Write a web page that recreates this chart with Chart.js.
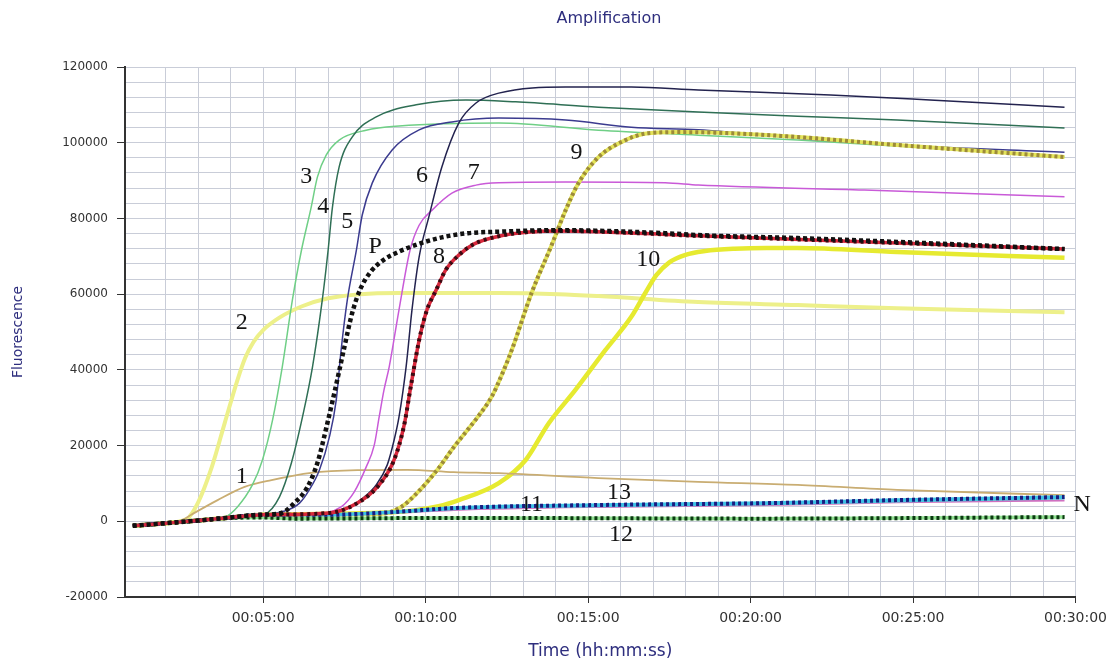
<!DOCTYPE html>
<html>
<head>
<meta charset="utf-8">
<script src="https://cdn.jsdelivr.net/npm/chart.js@4/dist/chart.umd.min.js"></script>
<style>
  html, body { margin: 0; padding: 0; background: #fff; }
  #chart { display: block; }
</style>
</head>
<body>
<canvas id="chart" width="1114" height="664"></canvas>
<script>
// time in minutes, fluorescence values
const curve1 = [[0.99, -1200], [2, -500], [2.5, 300], [2.8, 1800], [3.6, 5600], [4.43, 9100], [5.26, 10900], [6.48, 12800], [7.9, 13500], [9.43, 13600], [10.87, 13000], [12.25, 12700], [15.32, 11400], [18.39, 10400], [21.45, 9600], [24.51, 8300], [29.66, 6900]];
const curve2 = [[0.99, -1200], [2, -500], [2.65, 600], [2.99, 4800], [3.42, 14300], [3.82, 26000], [4.21, 37300], [4.45, 43200], [4.7, 47300], [5.0, 50500], [5.5, 53800], [6.2, 56800], [7.0, 58900], [8.0, 60000], [9.18, 60300], [12.25, 60300], [14.09, 60000], [15.32, 59500], [18.39, 57900], [21.45, 57100], [24.51, 56300], [29.66, 55200]];
const curve3 = [[0.99, -1200], [2, -500], [3, 200], [3.82, 1100], [4.21, 3800], [4.67, 9600], [4.98, 16200], [5.29, 26700], [5.59, 40800], [5.9, 58400], [6.18, 71600], [6.48, 83000], [6.67, 90900], [6.94, 96700], [7.34, 100700], [8.17, 103300], [9.18, 104400], [12.25, 105200], [15.32, 103300], [18.39, 102000], [21.45, 100700], [24.51, 99100], [29.66, 96200]];
const curve4 = [[0.99, -1200], [2, -500], [3, 200], [4, 1000], [5.04, 1900], [5.5, 6400], [5.87, 15400], [6.21, 27500], [6.52, 40800], [6.82, 58400], [7.0, 71600], [7.13, 82700], [7.34, 93600], [7.74, 101500], [8.48, 106800], [9.71, 110000], [11.24, 111300], [12.77, 110800], [15.32, 109400], [18.39, 108100], [21.45, 107000], [24.51, 106000], [29.66, 103900]];
const curve5 = [[0.99, -1200], [2, -500], [3, 200], [4, 1000], [5, 1700], [5.66, 2700], [6.12, 4800], [6.42, 8300], [6.73, 13500], [7.04, 22300], [7.25, 32000], [7.4, 45200], [7.59, 58400], [7.87, 71600], [8.05, 80900], [8.36, 89400], [8.97, 98100], [9.8, 103400], [10.81, 105500], [12.25, 106500], [14.31, 106000], [16.33, 104100], [18.39, 103400], [21.45, 101200], [24.51, 99400], [29.66, 97500]];
const curve6 = [[0.99, -1200], [2, -500], [3, 200], [4, 1000], [5, 1700], [6.73, 2000], [7.5, 3000], [8.11, 6400], [8.48, 9600], [8.82, 14900], [9.03, 21400], [9.18, 27500], [9.4, 40800], [9.58, 55800], [9.8, 69800], [10.1, 80400], [10.5, 93600], [11.02, 105200], [11.55, 110500], [12.25, 113100], [14.31, 114700], [16.33, 114700], [18.39, 113900], [22.46, 112600], [25.52, 111300], [29.66, 109400]];
const curve7 = [[0.99, -1200], [2, -500], [3, 200], [4, 1000], [5, 1700], [6.42, 1900], [7.4, 3800], [7.8, 7700], [8.17, 14300], [8.42, 20100], [8.57, 27500], [8.72, 34700], [8.88, 40800], [9.18, 55800], [9.52, 71600], [9.8, 78200], [10.2, 82200], [10.81, 86700], [11.55, 88800], [12.25, 89400], [14.31, 89600], [17.37, 89400], [18.39, 88800], [23.5, 87500], [29.66, 85700]];
const curveP = [[0.99, -1200], [2, -500], [3, 200], [4, 1000], [4.83, 1700], [5.56, 2200], [5.96, 4800], [6.36, 9000], [6.67, 15400], [6.98, 26000], [7.28, 37300], [7.5, 46000], [7.74, 55000], [8.0, 61500], [8.3, 65800], [8.7, 69000], [9.2, 71300], [9.8, 73300], [10.5, 75000], [11.3, 76100], [12.25, 76500], [14.09, 76900], [17.37, 76100], [18.39, 75600], [21.45, 74800], [24.51, 73800], [29.66, 71900]];
const curve8 = [[0.99, -1200], [2, -500], [3, 200], [4, 1000], [5, 1700], [7.04, 2200], [7.9, 4800], [8.57, 9600], [9.03, 16200], [9.34, 25400], [9.55, 35900], [9.8, 47800], [10.04, 55800], [10.32, 61000], [10.62, 66400], [11.02, 70300], [11.48, 73200], [12.25, 75300], [13.17, 76400], [14.09, 76700], [18.39, 75400], [24.51, 73500], [29.66, 71900]];
const curve9 = [[0.99, -1200], [2, -500], [3, 200], [4, 1000], [5, 1700], [8.57, 1900], [9.25, 3800], [9.74, 7500], [10.35, 13500], [10.87, 19600], [11.24, 23600], [11.6, 27500], [12.04, 33000], [12.35, 38800], [12.65, 45200], [13.26, 60300], [13.88, 73000], [14.31, 82200], [14.71, 89400], [15.32, 96200], [16.15, 100700], [16.85, 102500], [17.87, 102800], [19.4, 102500], [21.45, 101500], [24.51, 99400], [29.66, 96200]];
const curve10 = [[0.99, -1200], [2, -500], [3, 200], [4, 1000], [5, 1700], [9, 2400], [10.4, 4000], [11.02, 5600], [12.25, 10100], [13.08, 16200], [13.79, 25900], [14.61, 34700], [15.53, 45200], [16.33, 54000], [16.76, 60300], [17.1, 65000], [17.5, 68400], [18.0, 70400], [18.6, 71400], [19.5, 72000], [20.5, 72200], [21.45, 72200], [24.51, 71100], [29.66, 69600]];
const curve11 = [[0.99, -1200], [2, -500], [3, 200], [4, 1000], [4.83, 1600], [6.88, 1600], [8.94, 2200], [10.87, 3200], [15.32, 4000], [20.53, 4500], [24.51, 5200], [29.66, 6000]];
const curve12 = [[0.99, -1200], [2, -500], [3, 200], [4, 900], [5, 1000], [6, 700], [10.87, 900], [20.2, 700], [29.66, 1100]];
const curve13 = [[0.99, -1200], [2, -500], [3, 200], [4, 1000], [4.83, 1600], [6.88, 1500], [10.87, 3000], [15.32, 3800], [20.53, 4300], [24.51, 5000], [29.66, 5500]];
const curveN = [[0.99, -1200], [2, -500], [3, 200], [4, 1000], [4.83, 1700], [6.88, 1700], [8.94, 2400], [10.87, 3500], [15.32, 4300], [20.53, 4800], [24.51, 5600], [29.66, 6400]];

// curve labels written on the plot
const labelNames = ['1', '2', '3', '4', '5', 'P', '6', '7', '8', '9', '10', '11', '13', '12', 'N'];
const labelTimes = [4.34, 4.34, 6.33, 6.85, 7.59, 8.45, 9.89, 11.48, 10.41, 14.64, 16.85, 13.26, 15.95, 16.01, 30.2];
const labelValues = [11700, 52400, 90930, 83000, 79050, 72440, 91200, 91990, 69800, 97270, 69000, 4300, 7480, -3600, 4300];

const chartTitle = 'Amplification';
const xTitle = 'Time (hh:mm:ss)';
const yTitle = 'Fluorescence';
const minuteTicks = Array.from({ length: 29 }, (_, i) => i + 2);

const titleBlue = '#2e2e7e';
const gridColor = '#c9cdd8';

const toXY = (pts) => pts.map((p) => ({ x: p[0], y: p[1] }));

function line(data, color, width, dash, order) {
  return {
    data: toXY(data),
    borderColor: color,
    borderWidth: width,
    borderDash: dash || [],
    borderCapStyle: 'butt',
    pointRadius: 0,
    fill: false,
    cubicInterpolationMode: 'monotone',
    order: order,
  };
}

// lower order is drawn on top
const datasets = [
  line(curveP, '#111111', 4.5, [4, 3], 0),
  line(curve8, '#3c0a12', 4, [3, 4], 1),
  line(curve8, '#d8283c', 3.5, null, 2),
  line(curveN, '#1c1c80', 4, [3, 3], 3),
  line(curveN, '#3cc0e6', 3.5, null, 4),
  line(curve12, '#0c3a12', 4, [3, 3], 5),
  line(curve12, '#90e090', 3.5, null, 6),
  line(curve9, '#9c8a3a', 4, [3, 3], 7),
  line(curve9, '#e4e45a', 4, null, 8),
  line(curve6, '#23234f', 1.5, null, 9),
  line(curve5, '#3b3b8f', 1.5, null, 10),
  line(curve4, '#2f6f55', 1.5, null, 11),
  line(curve3, '#6fcf86', 1.5, null, 12),
  line(curve7, '#c95ad8', 1.5, null, 13),
  line(curve1, '#c9ad72', 1.8, null, 14),
  line(curve10, '#e6ea30', 4.5, null, 15),
  line(curve2, '#edf08a', 4, null, 16),
  line(curve11, '#55c8d8', 2, null, 17),
  line(curve13, '#d070c0', 2, null, 18),
];

function fmtTime(min) {
  const m = Math.round(min);
  return '00:' + String(m).padStart(2, '0') + ':00';
}

const textPlugin = {
  id: 'textPlugin',
  afterDraw(chart) {
    const { ctx, scales: { x, y } } = chart;
    ctx.save();
    ctx.font = '24px "Liberation Serif", "DejaVu Serif", serif';
    ctx.fillStyle = '#151515';
    ctx.textAlign = 'center';
    ctx.textBaseline = 'middle';
    labelNames.forEach((name, i) => {
      ctx.fillText(name, x.getPixelForValue(labelTimes[i]), y.getPixelForValue(labelValues[i]));
    });

    ctx.font = '16px "DejaVu Sans", sans-serif';
    ctx.fillStyle = titleBlue;
    ctx.fillText(chartTitle, 609, 19);
    ctx.restore();
  },
};

new Chart(document.getElementById('chart').getContext('2d'), {
  type: 'line',
  data: { datasets },
  options: {
    responsive: false,
    animation: false,
    layout: { padding: { top: 67, right: 36, bottom: 0, left: 0 } },
    plugins: {
      legend: { display: false },
      tooltip: { enabled: false },
      title: { display: false },
    },
    scales: {
      x: {
        type: 'linear',
        min: 0.75,
        max: 30,
        afterBuildTicks: (scale) => {
          scale.ticks = minuteTicks.map((v) => ({ value: v }));
        },
        afterFit: (scale) => {
          scale.height = 67;
        },
        ticks: {
          autoSkip: false,
          maxRotation: 0,
          padding: 7,
          color: '#333',
          font: { family: 'DejaVu Sans', size: 14 },
          callback: (v) => (v % 5 === 0 ? fmtTime(v) : ''),
        },
        grid: {
          color: gridColor,
          lineWidth: 1,
          tickLength: 6,
          tickColor: (c) => (c.tick && c.tick.value % 5 === 0 ? '#333' : 'rgba(0,0,0,0)'),
        },
        border: { color: '#333', width: 2 },
        title: {
          display: true,
          text: xTitle,
          color: titleBlue,
          font: { family: 'DejaVu Sans', size: 17 },
          padding: { top: 0, bottom: 2 },
        },
      },
      y: {
        min: -20000,
        max: 120000,
        afterFit: (scale) => {
          scale.width = 125;
        },
        ticks: {
          stepSize: 4000,
          autoSkip: false,
          padding: 9,
          color: '#333',
          font: { family: 'DejaVu Sans', size: 12 },
          callback: (v) => (Math.abs(v % 20000) < 1 ? String(v) : ''),
        },
        grid: {
          color: gridColor,
          lineWidth: 1,
          tickLength: 8,
          tickColor: (c) => (c.tick && Math.abs(c.tick.value % 20000) < 1 ? '#333' : 'rgba(0,0,0,0)'),
        },
        border: { color: '#333', width: 2 },
        title: {
          display: true,
          text: yTitle,
          color: titleBlue,
          font: { family: 'DejaVu Sans', size: 14 },
          padding: { top: 10, bottom: 0 },
        },
      },
    },
  },
  plugins: [textPlugin],
});
</script>
</body>
</html>
